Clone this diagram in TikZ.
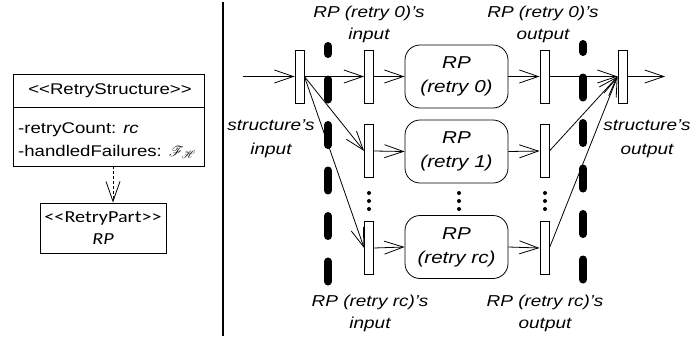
\documentclass[tikz,border=0pt]{standalone}
\usepackage{fontspec}
\usepackage{mathrsfs}
\setmainfont{Liberation Sans}[FakeStretch=1.2]
\newfontfamily\calib{Carlito}[FakeStretch=1.2]
\usetikzlibrary{arrows.meta}
\newcommand\myll{<\kern0pt<}
\newcommand\mygg{>\kern0pt>}
\begin{document}
\begin{tikzpicture}[x=1pt,y=-1pt,
  every node/.style={font=\fontsize{15.5}{22}\selectfont, inner sep=0pt},
  conn/.style={line width=0.8pt, -{Straight Barb[length=19pt,width=13pt,line width=0.8pt]}},
  barnode/.style={draw, line width=0.8pt, minimum width=9pt, minimum height=53pt, fill=white},
  rpbox/.style={draw, line width=0.8pt, rounded corners=15pt, minimum width=103pt, minimum height=63pt, align=center, font=\fontsize{17.2}{24}\selectfont\itshape},
  lbl/.style={align=center, font=\fontsize{15.8}{22}\selectfont\itshape},
  sepline/.style={line width=8pt, line cap=round, dash pattern=on 20pt off 25.5pt, dash phase=12pt},
  dotn/.style={circle, fill, minimum size=4pt},
  umlbox/.style={draw, line width=0.8pt}
]
\useasboundingbox (0,0) rectangle (691,338);

% divider
\coordinate (dtop) at (223,2);
\coordinate (dbot) at (223,336);
\draw[line width=1.5pt] (dtop) -- (dbot);

% left panel
\node[umlbox, minimum width=191pt, minimum height=92pt] (rs) at (108.5,120) {};
\coordinate (sepy) at (0,107);
\draw[line width=0.8pt] (rs.west |- sepy) -- (rs.east |- sepy);
\node (rstitle) at (110,91) {\myll RetryStructure\mygg};
\node[anchor=west] (att1) at (18,130) {-retryCount: \textit{rc}};
\node[anchor=west] (att2) at (18,152) {-handledFailures: $\mathscr{F}_{\mathscr{H}}$};
\node[umlbox, minimum width=126pt, minimum height=50pt, align=center, font=\calib\fontsize{16.8}{22}\selectfont] (rp) at (103,228) {\myll RetryPart\mygg\\\textit{RP}};
\coordinate (ux) at (113,0);
\draw[line width=0.8pt, dash pattern=on 3pt off 2pt, -{Straight Barb[length=20pt,width=14pt,line width=0.8pt]}] (ux |- rs.south) -- (ux |- rp.north);

% right panel: bars
\node[barnode] (sin) at (299.5,76.5) {};
\node[barnode] (in0) at (369,76.5) {};
\node[barnode] (in1) at (369,151) {};
\node[barnode] (inrc) at (369,248) {};
\node[barnode] (out0) at (544.5,76.5) {};
\node[barnode] (out1) at (544.5,151) {};
\node[barnode] (outrc) at (544.5,248) {};
\node[barnode] (sout) at (622.5,76.5) {};

% RP boxes
\node[rpbox] (rp0) at (456.5,76.5) {RP\\(retry 0)};
\node[rpbox] (rp1) at (456.5,151.5) {RP\\(retry 1)};
\node[rpbox] (rprc) at (456.5,247) {RP\\(retry rc)};

% dashed separators
\coordinate (s1a) at (328,46);
\coordinate (s1b) at (328,282);
\coordinate (s2a) at (583,44);
\coordinate (s2b) at (583,280);
\draw[sepline] (s1a) -- (s1b);
\draw[sepline] (s2a) -- (s2b);

% connectors
\coordinate (inarr) at (243,76.5);
\coordinate (outarr) at (665,76.5);
\draw[conn] (inarr) -- (sin.west);
\draw[conn] (sin.east) -- (in0.west);
\draw[conn] (sin.east) -- (in1.west);
\draw[conn] (sin.east) -- (inrc.west);
\draw[conn] (in0.east) -- (rp0.west);
\draw[conn] (in1.east) -- (rp1.west);
\draw[conn] (inrc.east) -- (rprc.west);
\draw[conn] (rp0.east) -- (out0.west);
\draw[conn] (rp1.east) -- (out1.west);
\draw[conn] (rprc.east) -- (outrc.west);
\draw[conn] (out0.east) -- (sout.west);
\draw[conn] (out1.east) -- (sout.west);
\draw[conn] (outrc.east) -- (sout.west);
\draw[conn] (sout.east) -- (outarr);

% dots
\foreach \x/\n in {369/a,459/b,545/c}{
  \node[dotn] (dot\n1) at (\x,193) {};
  \node[dotn] (dot\n2) at (\x,201) {};
  \node[dotn] (dot\n3) at (\x,209) {};
}

% labels
\node[lbl] (lin0) at (369,24) {RP (retry 0)’s\\input};
\node[lbl] (lout0) at (543,24) {RP (retry 0)’s\\output};
\node[lbl, font=\fontsize{15.8}{24}\selectfont\itshape] (lsin) at (271,139) {structure’s\\input};
\node[lbl, font=\fontsize{15.8}{24}\selectfont\itshape] (lsout) at (647,139) {structure’s\\output};
\node[lbl] (linrc) at (370,313) {RP (retry rc)’s\\input};
\node[lbl] (loutrc) at (545,313) {RP (retry rc)’s\\output};
\end{tikzpicture}
\end{document}
